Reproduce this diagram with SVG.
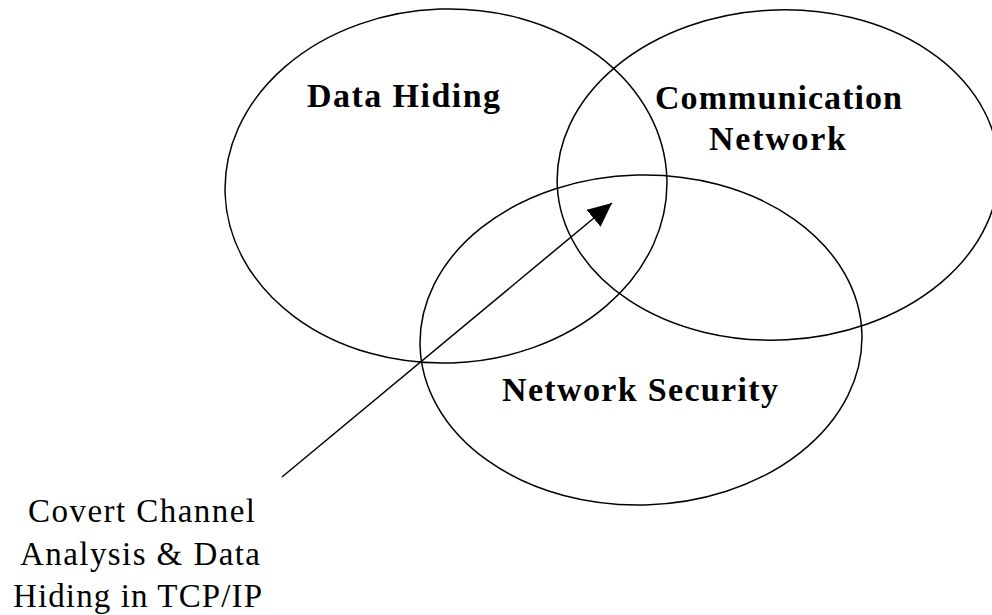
<svg xmlns="http://www.w3.org/2000/svg" width="992" height="615" viewBox="0 0 992 615">
  <style>
    .set { fill: none; stroke: #000; stroke-width: 1.5; }
    .title { font-family: "Liberation Serif", "Times New Roman", serif; font-weight: bold; font-size: 34px; fill: #000; }
    .note { font-family: "Liberation Serif", "Times New Roman", serif; font-size: 33px; fill: #000; }
    .link { stroke: #000; stroke-width: 1.5; fill: none; }
  </style>
  <defs>
    <marker id="arrowhead" viewBox="0 0 24 22" refX="24" refY="11" markerWidth="24" markerHeight="22" markerUnits="userSpaceOnUse" orient="auto">
      <path d="M0,0 L24,11 L0,22 z" fill="#000"/>
    </marker>
  </defs>
  <rect width="992" height="615" fill="#fff"/>

  <g id="data-hiding">
    <ellipse class="set" cx="446" cy="186" rx="221" ry="177" transform="rotate(-2 446 186)"/>
    <text class="title" x="307" y="107" textLength="193" lengthAdjust="spacing">Data Hiding</text>
  </g>

  <g id="communication-network">
    <ellipse class="set" cx="778" cy="175" rx="221" ry="165" transform="rotate(-3 778 175)"/>
    <text class="title" x="655" y="109" textLength="247" lengthAdjust="spacing">Communication</text>
    <text class="title" x="709" y="150" textLength="137" lengthAdjust="spacing">Network</text>
  </g>

  <g id="network-security">
    <ellipse class="set" cx="641" cy="340" rx="221" ry="165" transform="rotate(-1.5 641 340)"/>
    <text class="title" x="502" y="401" textLength="276" lengthAdjust="spacing">Network Security</text>
  </g>

  <g id="covert-channel">
    <text class="note" x="28" y="522" textLength="227" lengthAdjust="spacing">Covert Channel</text>
    <text class="note" x="20" y="565" textLength="240" lengthAdjust="spacing">Analysis &amp; Data</text>
    <text class="note" x="13" y="607" textLength="249" lengthAdjust="spacing">Hiding in TCP/IP</text>
  </g>

  <g id="connectors">
    <line class="link" x1="282" y1="477" x2="612" y2="203" marker-end="url(#arrowhead)"/>
  </g>
</svg>
